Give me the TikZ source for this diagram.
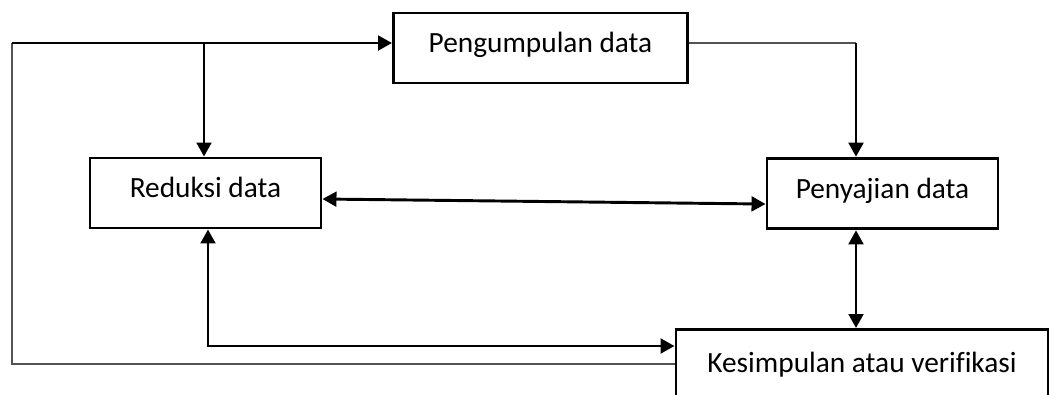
\documentclass[tikz,border=0pt]{standalone}
\usepackage{fontspec}
\setmainfont{Carlito}[Ligatures={NoCommon}]
\usetikzlibrary{arrows.meta}
\begin{document}
\begin{tikzpicture}[x=0.75pt,y=-0.75pt,
  box/.style={draw=black,line width=2.2pt,inner sep=0pt,
    font=\fontsize{22pt}{26pt}\selectfont,text height=0.85em,text depth=0.13em},
  thick line/.style={draw=black,line width=2.2pt},
  thin line/.style={draw=black!68,line width=1.2pt},
  tip/.style={-{Triangle[length=10.5pt,width=11pt]}},
  both tips/.style={{Triangle[length=10.5pt,width=11pt]}-{Triangle[length=10.5pt,width=11pt]}}]
\clip (0,0) rectangle (1050,394);
\fill[white] (0,0) rectangle (1050,394);
% boxes
\node[box,minimum width=220.5pt,minimum height=52.5pt] (pg) at (540.5,48) {Pengumpulan data};
\node[box,minimum width=173.25pt,minimum height=52.5pt] (rd) at (205.5,193) {Reduksi data};
\node[box,minimum width=173.25pt,minimum height=53pt] (pn) at (882.5,193.5) {Penyajian data};
\node[box,anchor=north,minimum width=279pt,text height=32.5pt,text depth=35pt] (ks) at (862,328) {Kesimpulan atau verifikasi};
% helper coordinates
\coordinate (lt) at (12,43);
\coordinate (mid) at (204,43);
\coordinate (rt) at (856,43);
\coordinate (bl) at (208,346);
\coordinate (lb) at (12,364);
% top feedback into Pengumpulan
\draw[thin line] (ks.west |- lb) -- (lb) -- (lt);
\draw[thick line,tip] (lt) -- (pg.west |- lt);
\draw[thick line,tip] (mid) -- (mid |- rd.north);
% Pengumpulan -> Penyajian
\draw[thin line] (pg.east |- rt) -- (rt);
\draw[thick line,tip] (rt) -- (rt |- pn.north);
% Reduksi <-> Penyajian
\draw[thick line,both tips] ([yshift=-4.5pt]rd.east) -- ([yshift=-7.9pt]pn.west);
% Penyajian <-> Kesimpulan
\draw[thick line,both tips] (rt |- pn.south) -- (rt |- ks.north);
% Reduksi <-> Kesimpulan
\draw[thick line,both tips] (bl |- rd.south) -- (bl) -- (bl -| ks.west);
\end{tikzpicture}
\end{document}
